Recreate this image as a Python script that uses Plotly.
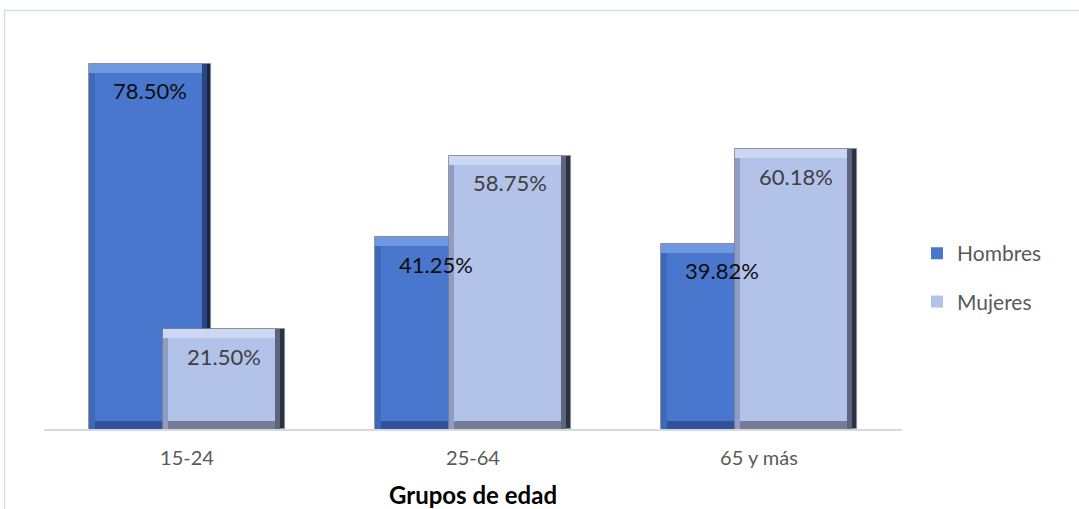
import plotly.graph_objects as go

# Data
categories = ["15-24", "25-64", "65 y más"]
hombres = [78.50, 41.25, 39.82]
mujeres = [21.50, 58.75, 60.18]

FONT = "Lato"

# Bar geometry in category units (bars overlap inside each group)
BAR_W = 0.426
OFFSETS = {"Hombres": -0.341, "Mujeres": -0.085}

# Bevel thickness (x in category units, y in value units)
BEV_L, BEV_R = 0.018, 0.032
BEV_T, BEV_B = 1.9, 1.7

STYLES = {
    "Hombres": dict(face="#4977CD", top="#6E99E2", left="#3D69BB", bottom="#2F5398",
                    right_out="#1A2640", right_in="#2B4580", text="#0D0D0D"),
    "Mujeres": dict(face="#B3C2E8", top="#CBD7F3", left="#8E9CC6", bottom="#737C98",
                    right_out="#2C3242", right_in="#5B6580", text="#404040"),
}

fig = go.Figure()


def add_beveled_series(name, values):
    s = STYLES[name]
    o = OFFSETS[name]
    n = len(values)
    layers = [
        # (color, offset, width, base list, height list)
        (s["right_out"], o, BAR_W, [0] * n, values),
        (s["right_in"], o, BAR_W - BEV_R / 2, [0] * n, values),
        (s["left"], o, BAR_W - BEV_R, [0] * n, values),
        (s["top"], o, BAR_W - BEV_R, [v - BEV_T for v in values], [BEV_T] * n),
        (s["bottom"], o + BEV_L, BAR_W - BEV_L - BEV_R, [0] * n, [BEV_B] * n),
        (s["face"], o + BEV_L, BAR_W - BEV_L - BEV_R, [BEV_B] * n,
         [v - BEV_T - BEV_B for v in values]),
    ]
    last = len(layers) - 1
    for i, (color, off, wid, base, height) in enumerate(layers):
        fig.add_trace(go.Bar(
            x=categories, y=height, base=base,
            offset=off, width=wid,
            name=name, legendgroup=name, showlegend=(i == last),
            marker=dict(color=color,
                        line=dict(color="#8A8F99" if i == 0 else color,
                                  width=0.8 if i == 0 else 0)),
            hoverinfo="skip",
        ))
    # value labels near the top of each bar
    for i, v in enumerate(values):
        fig.add_annotation(
            x=i + o + BAR_W / 2, y=v, xref="x", yref="y",
            text=f"{v:.2f}%", showarrow=False, yshift=-27,
            font=dict(family=FONT, size=22, color=s["text"]),
        )


add_beveled_series("Hombres", hombres)
add_beveled_series("Mujeres", mujeres)

# chart frame
fig.add_shape(type="rect", xref="paper", yref="paper",
              x0=-0.046, x1=1.4, y0=-0.5, y1=1.125,
              line=dict(color="#D6DEEC", width=1.5), fillcolor="rgba(0,0,0,0)",
              layer="below")

fig.update_layout(
    width=1079, height=509,
    margin=dict(l=44, r=177, t=57, b=80, autoexpand=False),
    barmode="overlay",
    bargap=0,
    plot_bgcolor="white", paper_bgcolor="white",
    showlegend=True,
    legend=dict(
        x=1.0175, y=0.407, xanchor="left", yanchor="middle",
        traceorder="grouped", tracegroupgap=18,
        font=dict(family=FONT, size=21, color="#595959"),
        itemwidth=30,
    ),
    xaxis=dict(
        type="category", range=[-0.5, 2.5], automargin=False,
        showgrid=False, showline=True, linecolor="#D9D9D9", linewidth=2,
        ticks="", ticklabelstandoff=10,
        tickfont=dict(family=FONT, size=20, color="#595959"),
        title=dict(text="<b>Grupos de edad</b>", standoff=19,
                   font=dict(family=FONT, size=24, color="#000000")),
    ),
    yaxis=dict(
        range=[0, 80], visible=False, showgrid=False, zeroline=False,
        automargin=False,
    ),
)

fig.write_html("out.html")
